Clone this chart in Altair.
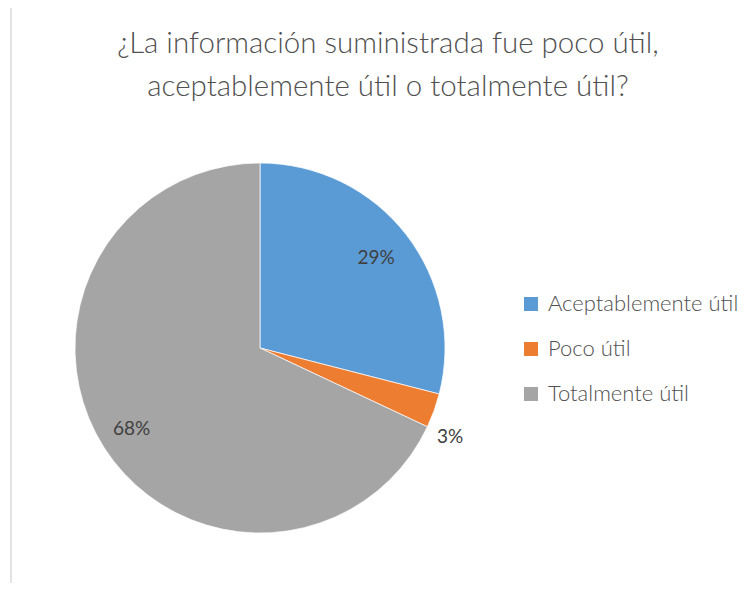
import altair as alt
import pandas as pd

categories = ["Aceptablemente útil", "Poco útil", "Totalmente útil"]
values = [29, 3, 68]
labels = ["29%", "3%", "68%"]
colors = ["#5B9BD5", "#ED7D31", "#A5A5A5"]
title_lines = ["¿La información suministrada fue poco útil,", "aceptablemente útil o totalmente útil?"]

df = pd.DataFrame({"cat": categories, "val": values, "lab": labels, "ord": list(range(len(categories)))})
tdf = pd.DataFrame({"t": title_lines, "i": list(range(len(title_lines)))})

W, H = 740, 575
CX, CY = 252, 340
R = 185

pie = alt.Chart(df).mark_arc(radius=R, stroke="white", strokeWidth=0.7).encode(
    theta=alt.Theta("val:Q", stack=True),
    order=alt.Order("ord:Q"),
    color=alt.Color(
        "cat:N",
        scale=alt.Scale(domain=categories, range=colors),
        legend=alt.Legend(
            title=None,
            orient="none",
            legendX=512,
            legendY=285,
            symbolType="square",
            symbolSize=196,
            symbolStrokeWidth=0,
            labelFontSize=22,
            labelFont="Lato",
            labelFontWeight=300,
            labelColor="#505050",
            labelLimit=400,
            rowPadding=23,
            labelOffset=6,
        ),
    ),
    x=alt.value(CX),
    y=alt.value(CY),
)

labels_layer = alt.Chart(df).transform_window(
    cum="sum(val)", sort=[alt.SortField("ord")], frame=[None, 0]
).transform_joinaggregate(
    tot="sum(val)"
).transform_calculate(
    off="datum.cat == 'Poco útil' ? 0.093 : 0",
    r="datum.cat == 'Aceptablemente útil' ? 147 : (datum.cat == 'Poco útil' ? 210 : 152)",
).transform_calculate(
    ang="(datum.cum - datum.val / 2) / datum.tot * 2 * PI + datum.off"
).transform_calculate(
    px=f"{CX} + datum.r * sin(datum.ang)",
    py=f"{CY} - datum.r * cos(datum.ang)",
).mark_text(fontSize=19, font="Lato", fontWeight=400, color="#404040", align="center", baseline="middle").encode(
    text="lab:N",
    x=alt.X("px:Q", scale=None, axis=None),
    y=alt.Y("py:Q", scale=None, axis=None),
)

title = alt.Chart(tdf).transform_calculate(
    ty="45 + 43 * datum.i"
).mark_text(fontSize=29.5, font="Lato", fontWeight=300, color="#505050", baseline="alphabetic", align="center").encode(
    text="t:N",
    x=alt.value(380),
    y=alt.Y("ty:Q", scale=None, axis=None),
)

border = alt.Chart(tdf).mark_rule(color="#D9D9D9", strokeWidth=1).encode(
    x=alt.value(3), y=alt.value(0), y2=alt.value(H)
)

chart = alt.layer(border, pie, labels_layer, title).properties(
    width=W, height=H, padding=0, autosize=alt.AutoSizeParams(type="none")
).configure_view(stroke=None)

chart.save("out.html", embed_options={"renderer": "svg", "actions": False})
